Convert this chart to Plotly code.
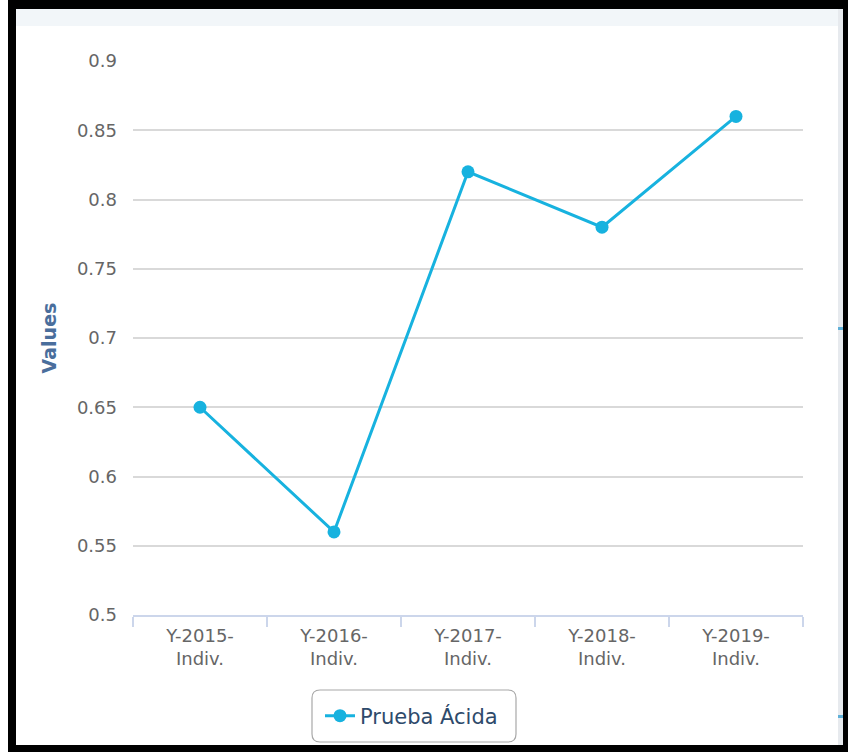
import plotly.graph_objects as go

# Data
categories = ["Y-2015-Indiv.", "Y-2016-Indiv.", "Y-2017-Indiv.", "Y-2018-Indiv.", "Y-2019-Indiv."]
category_labels = ["Y-2015-<br>Indiv.", "Y-2016-<br>Indiv.", "Y-2017-<br>Indiv.", "Y-2018-<br>Indiv.", "Y-2019-<br>Indiv."]
prueba_acida = [0.65, 0.56, 0.82, 0.78, 0.86]
y_ticks = [0.5, 0.55, 0.6, 0.65, 0.7, 0.75, 0.8, 0.85, 0.9]
y_tick_labels = ["0.5", "0.55", "0.6", "0.65", "0.7", "0.75", "0.8", "0.85", "0.9"]

# Canvas and plot-area geometry (pixels)
W, H = 848, 752
L, R, T, B = 133, 45, 61, 137
PW, PH = W - L - R, H - T - B


def fx(px):
    return (px - L) / PW


def fy(py):
    return (H - B - py) / PH


LINE_COLOR = "#17b2df"
FONT = "DejaVu Sans"

fig = go.Figure()
fig.add_trace(go.Scatter(
    x=categories, y=prueba_acida, name="Prueba Ácida",
    mode="lines+markers",
    line=dict(color=LINE_COLOR, width=3),
    marker=dict(color=LINE_COLOR, size=13),
))

shapes = []


def rect(x0, y0, x1, y1, color):
    shapes.append(dict(type="rect", xref="paper", yref="paper",
                       x0=fx(x0), x1=fx(x1), y0=fy(y0), y1=fy(y1),
                       fillcolor=color, line=dict(width=0), layer="below"))


# frame around the widget
rect(8, 0, 848, 9, "#000000")
rect(8, 0, 16, 752, "#000000")
rect(843, 0, 848, 752, "#000000")
rect(8, 745, 848, 752, "#000000")
rect(16, 9, 838, 26, "#f2f6f9")
rect(838, 9, 843, 745, "#e7eaee")
rect(838, 327, 843, 330, "#5fb0d8")
rect(838, 715, 843, 718, "#5fb0d8")

# rounded legend frame
lx0, ly0, lx1, ly1, rr = 312, 690, 516, 742, 8
pts = [
    f"M {fx(lx0 + rr)},{fy(ly0)}",
    f"L {fx(lx1 - rr)},{fy(ly0)}",
    f"Q {fx(lx1)},{fy(ly0)} {fx(lx1)},{fy(ly0 + rr)}",
    f"L {fx(lx1)},{fy(ly1 - rr)}",
    f"Q {fx(lx1)},{fy(ly1)} {fx(lx1 - rr)},{fy(ly1)}",
    f"L {fx(lx0 + rr)},{fy(ly1)}",
    f"Q {fx(lx0)},{fy(ly1)} {fx(lx0)},{fy(ly1 - rr)}",
    f"L {fx(lx0)},{fy(ly0 + rr)}",
    f"Q {fx(lx0)},{fy(ly0)} {fx(lx0 + rr)},{fy(ly0)} Z",
]
shapes.append(dict(type="path", xref="paper", yref="paper", path=" ".join(pts),
                   line=dict(color="#a8a8a8", width=1.2), fillcolor="rgba(0,0,0,0)"))

fig.update_layout(
    width=W, height=H,
    margin=dict(l=L, r=R, t=T, b=B, autoexpand=False),
    paper_bgcolor="white", plot_bgcolor="white",
    font=dict(family=FONT, color="#666666", size=18),
    shapes=shapes,
    showlegend=True,
    legend=dict(
        orientation="h", x=fx(320), xanchor="left", y=fy(716), yanchor="middle",
        bgcolor="rgba(0,0,0,0)", borderwidth=0,
        font=dict(family=FONT, size=21, color="#2e4a6b"),
    ),
    xaxis=dict(
        type="category", tickmode="array", tickvals=categories, ticktext=category_labels,
        tickson="boundaries", ticks="outside", ticklen=10, tickcolor="#ccd6eb", tickwidth=1.5,
        showline=True, linecolor="#ccd6eb", linewidth=2,
        showgrid=False, tickfont=dict(size=18, color="#666666"),
        ticklabelstandoff=3,
        range=[-0.5, 4.5], fixedrange=True,
    ),
    yaxis=dict(
        range=[0.5, 0.9], tickmode="array", tickvals=y_ticks, ticktext=y_tick_labels,
        showgrid=True, gridcolor="#d9d9d9", gridwidth=1.5,
        zeroline=False, showline=False, ticks="",
        ticklabelstandoff=15,
        tickfont=dict(size=18, color="#666666"),
        title=dict(text="<b>Values</b>", font=dict(family=FONT, size=19, color="#4a6e9c"), standoff=15),
        fixedrange=True,
    ),
)

fig.write_html("out.html")
